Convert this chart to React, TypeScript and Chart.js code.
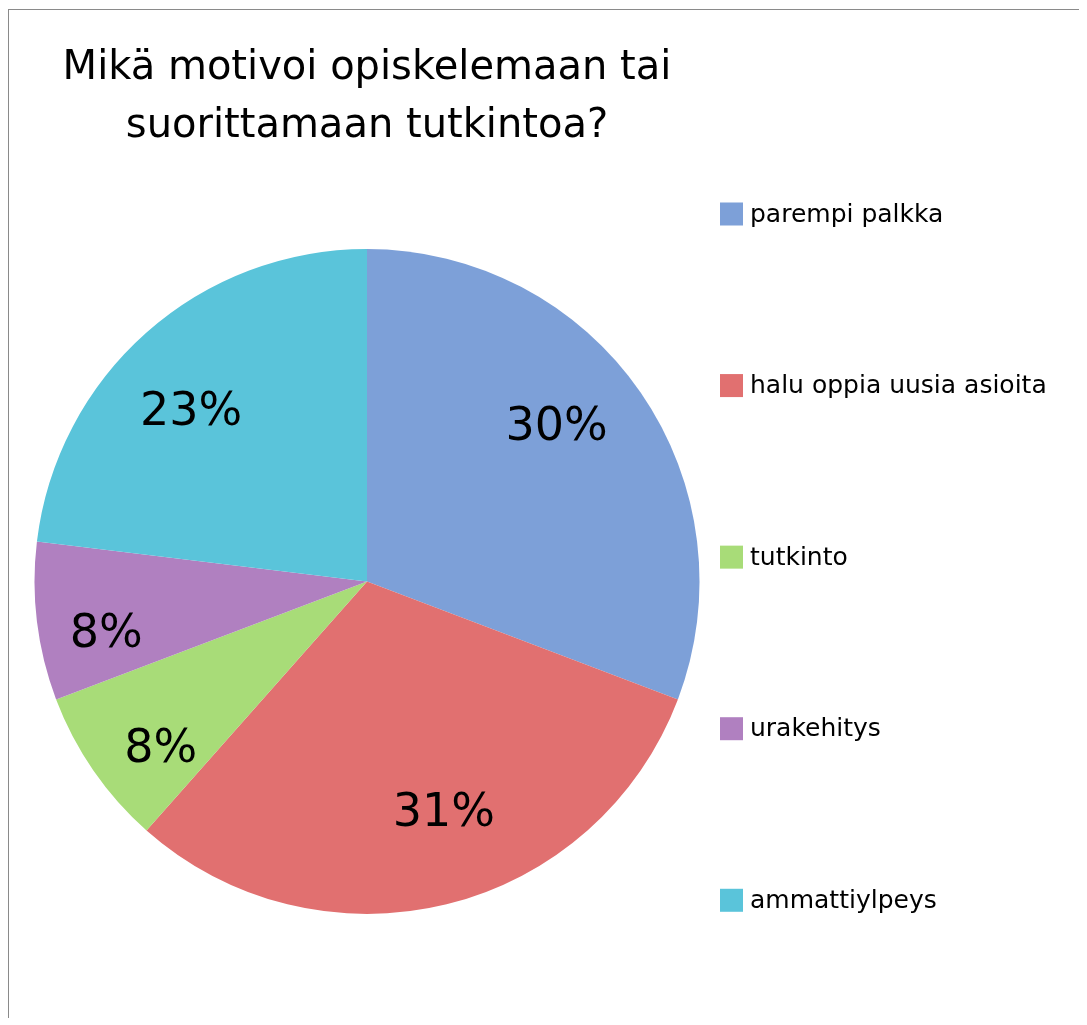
import React, { useEffect, useRef } from "react";
import { Chart, registerables } from "chart.js";

Chart.register(...registerables);

const categories = [
  "parempi palkka",
  "halu oppia uusia asioita",
  "tutkinto",
  "urakehitys",
  "ammattiylpeys",
];
const responses = [4, 4, 1, 1, 3];
const percentLabels = ["30%", "31%", "8%", "8%", "23%"];
const sliceColors = ["#7DA0D8", "#E17070", "#A8DC78", "#B080C0", "#5AC4DA"];
const titleLines = ["Mikä motivoi opiskelemaan tai", "suorittamaan tutkintoa?"];

const FONT = "'DejaVu Sans', 'Lucida Grande', Verdana, sans-serif";

const sliceLabelPlugin = {
  id: "sliceLabels",
  afterDatasetsDraw(chart: any) {
    const ctx = chart.ctx;
    const meta = chart.getDatasetMeta(0);
    const values = chart.data.datasets[0].data as number[];
    const total = values.reduce((a, b) => a + b, 0);
    ctx.save();
    ctx.font = `46px ${FONT}`;
    ctx.fillStyle = "#000";
    ctx.textAlign = "center";
    ctx.textBaseline = "middle";
    meta.data.forEach((arc: any, i: number) => {
      const p = arc.getProps(["x", "y", "startAngle", "endAngle", "outerRadius"], true);
      const mid = (p.startAngle + p.endAngle) / 2 - (4.5 * Math.PI) / 180;
      const share = values[i] / total;
      const ratio = share < 0.1 ? 0.8 : 0.735;
      const tx = p.x + Math.cos(mid) * p.outerRadius * ratio;
      const ty = p.y + Math.sin(mid) * p.outerRadius * ratio + 1;
      ctx.fillText(percentLabels[i], tx, ty);
    });
    ctx.restore();
  },
};

const sideLegendPlugin = {
  id: "sideLegend",
  afterDraw(chart: any) {
    const { ctx, chartArea } = chart;
    const labels = chart.data.labels as string[];
    const colors = chart.data.datasets[0].backgroundColor as string[];
    const step = chartArea.height * 0.258;
    const x0 = chartArea.right - 5;
    const y0 = chartArea.top - 35;
    const box = 23;
    ctx.save();
    ctx.font = `25px ${FONT}`;
    ctx.textAlign = "left";
    ctx.textBaseline = "middle";
    labels.forEach((label, i) => {
      const cy = y0 + step * i;
      ctx.fillStyle = colors[i];
      ctx.fillRect(x0, cy - box / 2, box, box);
      ctx.fillStyle = "#000";
      ctx.fillText(label, x0 + 30, cy + 1);
    });
    ctx.restore();
  },
};

export default function App() {
  const canvasRef = useRef<HTMLCanvasElement | null>(null);

  useEffect(() => {
    if (!canvasRef.current) return;
    Chart.defaults.font.family = FONT;
    const chart = new Chart(canvasRef.current, {
      type: "pie",
      data: {
        labels: categories,
        datasets: [
          {
            data: responses,
            backgroundColor: sliceColors,
            borderWidth: 0,
            hoverOffset: 0,
            offset: 0,
          } as any,
        ],
      },
      options: {
        responsive: false,
        animation: false,
        events: [],
        layout: { padding: { left: 0, right: 354, top: 0, bottom: 104 } },
        plugins: {
          legend: { display: false },
          tooltip: { enabled: false },
          title: {
            display: true,
            text: titleLines,
            color: "#000",
            font: { family: FONT, size: 40, weight: "normal", lineHeight: 58 / 40 },
            padding: { top: 30, bottom: 93 },
          },
        },
      },
      plugins: [sliceLabelPlugin, sideLegendPlugin],
    });
    return () => chart.destroy();
  }, []);

  return (
    <div
      style={{
        width: 1070,
        height: 1008,
        marginTop: 1,
        borderTop: "1px solid #8a8a8a",
        borderLeft: "1px solid #8a8a8a",
        overflow: "hidden",
      }}
    >
      <canvas ref={canvasRef} width={1070} height={1008} style={{ display: "block" }} />
    </div>
  );
}
